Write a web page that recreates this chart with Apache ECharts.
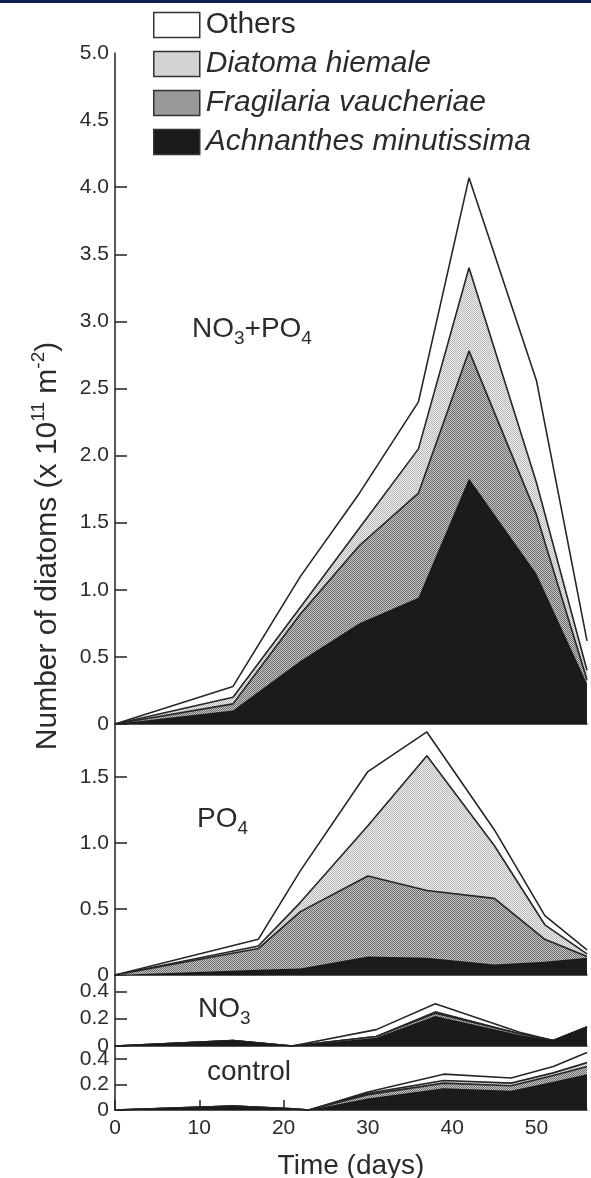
<!DOCTYPE html>
<html>
<head>
<meta charset="utf-8">
<script src="https://cdn.jsdelivr.net/npm/echarts@6/dist/echarts.min.js"></script>
<style>
  html, body { margin: 0; background: #fff; }
  #chart { width: 591px; height: 1178px; }
</style>
</head>
<body>
<div id="chart"></div>
<script>
// species, bottom of the stack first
const species = ['Achnanthes minutissima', 'Fragilaria vaucheriae', 'Diatoma hiemale', 'Others']

// NO3+PO4 panel (x 10^11 m^-2)
const npDays = [0, 14, 22, 29, 36, 42, 50, 56]
const npAchnanthes = [0, 0.10, 0.47, 0.75, 0.94, 1.83, 1.12, 0.30]
const npFragilaria = [0, 0.05, 0.35, 0.58, 0.78, 0.95, 0.44, 0.03]
const npDiatoma = [0, 0.05, 0.05, 0.13, 0.33, 0.62, 0.24, 0.07]
const npOthers = [0, 0.08, 0.23, 0.26, 0.35, 0.67, 0.76, 0.22]

// PO4 panel
const poDays = [0, 17, 22, 30, 37, 45, 51, 56]
const poAchnanthes = [0, 0.04, 0.05, 0.14, 0.13, 0.08, 0.10, 0.13]
const poFragilaria = [0, 0.16, 0.43, 0.61, 0.51, 0.50, 0.17, 0.01]
const poDiatoma = [0, 0.02, 0.07, 0.38, 1.02, 0.40, 0.11, 0.02]
const poOthers = [0, 0.05, 0.24, 0.41, 0.18, 0.12, 0.07, 0.03]

// NO3 panel
const noDays = [0, 14, 21, 31, 38, 48, 52, 56]
const noAchnanthes = [0, 0.04, 0, 0.06, 0.22, 0.08, 0.04, 0.14]
const noFragilaria = [0, 0, 0, 0.01, 0.02, 0.01, 0, 0]
const noDiatoma = [0, 0, 0, 0, 0.01, 0, 0, 0]
const noOthers = [0, 0, 0, 0.05, 0.06, 0.01, 0, 0]

// control panel
const ctDays = [0, 14, 21, 23, 30, 39, 47, 52, 56]
const ctAchnanthes = [0, 0.03, 0.01, 0, 0.09, 0.17, 0.15, 0.22, 0.28]
const ctFragilaria = [0, 0, 0, 0, 0.03, 0.04, 0.04, 0.05, 0.06]
const ctDiatoma = [0, 0, 0, 0, 0.01, 0.02, 0.02, 0.02, 0.03]
const ctOthers = [0, 0, 0, 0, 0.01, 0.05, 0.04, 0.05, 0.08]

// tick labels
const npTicks = [0, 0.5, 1, 1.5, 2, 2.5, 3, 3.5, 4, 4.5, 5]
const poTicks = [0, 0.5, 1, 1.5]
const smallTicks = [0, 0.2, 0.4]
const dayTicks = [0, 10, 20, 30, 40, 50]

const FONT = 'Liberation Sans, Arial, sans-serif'
const INK = '#2b2b2b'

// stipple fills, like the halftone of the print
function stipple(base, dot) {
    const c = document.createElement('canvas')
    c.width = 2; c.height = 2
    const g = c.getContext('2d')
    g.fillStyle = base; g.fillRect(0, 0, 2, 2)
    g.fillStyle = dot; g.fillRect(0, 0, 1, 1); g.fillRect(1, 1, 1, 1)
    return { image: c, repeat: 'repeat' }
}
const fills = ['#1c1a1b', stipple('#c8c8c8', '#6a6a6a'), stipple('#f2f2f2', '#b4b4b4'), '#ffffff']

const panels = [
    { days: npDays, vals: [npAchnanthes, npFragilaria, npDiatoma, npOthers], top: 53, height: 671, max: 5, ticks: npTicks, tickMarks: npTicks.slice(0, 9) },
    { days: poDays, vals: [poAchnanthes, poFragilaria, poDiatoma, poOthers], top: 724, height: 251, max: 1.9, ticks: poTicks, tickMarks: poTicks },
    { days: noDays, vals: [noAchnanthes, noFragilaria, noDiatoma, noOthers], top: 975, height: 71, max: 0.52, ticks: smallTicks, tickMarks: smallTicks },
    { days: ctDays, vals: [ctAchnanthes, ctFragilaria, ctDiatoma, ctOthers], top: 1046, height: 64, max: 0.5, ticks: smallTicks, tickMarks: smallTicks }
]

const fmt = v => (v === 0 ? '0' : v.toFixed(1))
const last = panels.length - 1

const grid = panels.map(p => ({ left: 115, width: 472, top: p.top, height: p.height, outerBoundsMode: 'none' }))

const xAxis = panels.map((p, i) => ({
    type: 'value', gridIndex: i, min: 0, max: 56,
    splitLine: { show: false },
    axisLine: { show: true, lineStyle: { color: '#222', width: 1.5 } },
    axisTick: { show: i === last, inside: true, length: 10, customValues: dayTicks, lineStyle: { color: '#222', width: 1.5 } },
    axisLabel: { show: i === last, customValues: dayTicks, margin: 8, fontSize: 21, fontFamily: FONT, color: INK },
    name: i === last ? 'Time (days)' : '',
    nameLocation: 'middle', nameGap: 42,
    nameTextStyle: { fontSize: 28, fontFamily: FONT, color: INK }
}))

const yAxis = panels.map((p, i) => ({
    type: 'value', gridIndex: i, min: 0, max: p.max,
    splitLine: { show: false },
    axisLine: { show: true, lineStyle: { color: '#222', width: 1.5 } },
    axisTick: { show: true, inside: true, length: 12, customValues: p.tickMarks, lineStyle: { color: '#222', width: 1.5 } },
    axisLabel: {
        customValues: p.ticks, margin: 6, fontSize: 21, fontFamily: FONT, color: INK,
        formatter: v => (p.ticks.some(t => Math.abs(t - v) < 1e-6) ? fmt(v) : '')
    }
}))

// running sums: top edge of each layer (x axis is a value axis, so stack by hand)
function layerTops(vals) {
    return vals.map((_, k) => vals[0].map((_, j) => {
        let s = 0
        for (let m = 0; m <= k; m++) s += vals[m][j]
        return +s.toFixed(4)
    }))
}

// each layer is an area from 0 to its top; upper layers first so lower ones paint over them
const series = []
panels.forEach((p, i) => {
    const tops = layerTops(p.vals)
    for (let k = species.length - 1; k >= 0; k--) {
        series.push({
            name: species[k], type: 'line', xAxisIndex: i, yAxisIndex: i,
            data: p.days.map((d, j) => [d, tops[k][j]]),
            symbol: 'none', showSymbol: false, animation: false, silent: true,
            z: 2 + (species.length - k),
            lineStyle: k === 0 ? { width: 0, color: fills[0] } : { width: 1.6, color: '#262626' },
            itemStyle: { color: k === 0 ? fills[0] : '#262626' },
            areaStyle: { color: fills[k], opacity: 1, origin: 'start' }
        })
    }
})

const legendItem = (name, k, italic) => ({
    name, icon: 'rect',
    itemStyle: { color: fills[k], borderColor: '#333', borderWidth: 1.5 },
    textStyle: { fontStyle: italic ? 'italic' : 'normal' }
})

// text with sub/superscripts
const rich = {
    a: { fontSize: 28, fontFamily: FONT, fill: INK, color: INK },
    s: { fontSize: 19, fontFamily: FONT, fill: INK, color: INK, padding: [20, 0, 0, 0] },
    t: { fontSize: 30, fontFamily: FONT, fill: INK, color: INK },
    u: { fontSize: 19, fontFamily: FONT, fill: INK, color: INK, padding: [0, 0, 18, 0] }
}
const label = (x, y, text) => ({
    type: 'text', x, y, silent: true, z: 100,
    style: { text, rich, fontSize: 28, fontFamily: FONT, fill: INK, align: 'left', verticalAlign: 'middle' }
})

const chart = echarts.init(document.getElementById('chart'), null, { renderer: 'canvas' })
chart.setOption({
    backgroundColor: '#fff',
    animation: false,
    grid, xAxis, yAxis, series,
    legend: {
        orient: 'vertical', left: 148, top: 5,
        itemWidth: 46, itemHeight: 25, itemGap: 9,
        selectedMode: false,
        textStyle: { fontSize: 30, fontFamily: FONT, color: INK, padding: [0, 0, 0, 1] },
        data: [
            legendItem('Others', 3, false),
            legendItem('Diatoma hiemale', 2, true),
            legendItem('Fragilaria vaucheriae', 1, true),
            legendItem('Achnanthes minutissima', 0, true)
        ]
    },
    graphic: [
        { type: 'rect', left: 0, top: 0, z: 100, shape: { width: 591, height: 3 }, style: { fill: '#0d1f4d' } },
        label(192, 329, '{a|NO}{s|3}{a|+PO}{s|4}'),
        label(197, 819, '{a|PO}{s|4}'),
        label(198, 1009, '{a|NO}{s|3}'),
        label(207, 1072, '{a|control}'),
        {
            type: 'text', x: 48, y: 546, rotation: Math.PI / 2, silent: true, z: 100,
            style: {
                text: '{t|Number of diatoms (x 10}{u|11}{t| m}{u|-2}{t|)}',
                rich, fontSize: 30, fontFamily: FONT, fill: INK, align: 'center', verticalAlign: 'middle'
            }
        }
    ]
})
</script>
</body>
</html>
